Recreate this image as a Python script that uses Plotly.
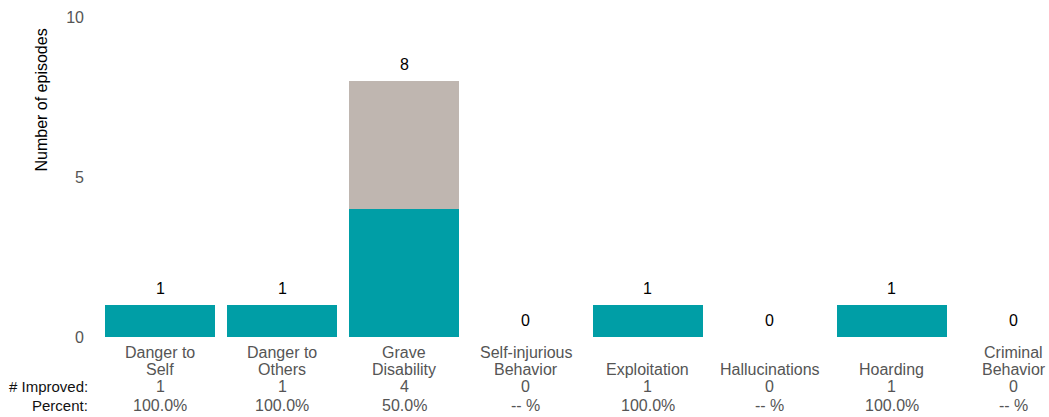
import plotly.graph_objects as go

categories = ["Danger to<br>Self", "Danger to<br>Others", "Grave<br>Disability",
              "Self-injurious<br>Behavior", "Exploitation", "Hallucinations",
              "Hoarding", "Criminal<br>Behavior"]
improved = [1, 1, 4, 0, 1, 0, 1, 0]
not_improved = [0, 0, 4, 0, 0, 0, 0, 0]
y_ticks = [0, 5, 10]

totals = [a + b for a, b in zip(improved, not_improved)]
percents = [f"{100.0 * a / t:.1f}%" if t > 0 else "-- %" for a, t in zip(improved, totals)]
xs = list(range(len(categories)))

TEAL = "#009EA6"
GREY = "#BFB6B0"
FONT = "Arial, Liberation Sans, sans-serif"
LABEL_COLOR = "#555555"

fig = go.Figure()
fig.add_trace(go.Bar(x=xs, y=improved, marker=dict(color=TEAL, line=dict(width=0)),
                     name="Improved", hoverinfo="skip"))
fig.add_trace(go.Bar(x=xs, y=not_improved, marker=dict(color=GREY, line=dict(width=0)),
                     name="Not improved", hoverinfo="skip"))

annotations = []
# value labels above bars
for x, t in zip(xs, totals):
    annotations.append(dict(x=x, y=t, xref="x", yref="y", text=str(t), showarrow=False,
                            yshift=17, yanchor="middle",
                            font=dict(family=FONT, size=16, color="#000000")))
# category labels, bottom aligned in a two-line block
line_offsets = [-15, -32]
for x, cat in zip(xs, categories):
    lines = cat.split("<br>")
    offs = line_offsets[-len(lines):]
    for ln, off in zip(lines, offs):
        annotations.append(dict(x=x, y=0, xref="x", yref="y", text=ln, showarrow=False,
                                yshift=off, yanchor="middle",
                                font=dict(family=FONT, size=16, color=LABEL_COLOR)))
    annotations.append(dict(x=x, y=0, xref="x", yref="y", text=str(improved[x]), showarrow=False,
                            yshift=-49, yanchor="middle",
                            font=dict(family=FONT, size=16, color=LABEL_COLOR)))
    annotations.append(dict(x=x, y=0, xref="x", yref="y", text=percents[x], showarrow=False,
                            yshift=-68, yanchor="middle",
                            font=dict(family=FONT, size=16, color=LABEL_COLOR)))

# row labels
for txt, off in [("# Improved:", -49), ("Percent:", -68)]:
    annotations.append(dict(x=0, y=0, xref="paper", yref="y", text=txt, showarrow=False,
                            xanchor="right", yanchor="middle", xshift=-9, yshift=off,
                            font=dict(family=FONT, size=15, color="#111111")))
# axis title
annotations.append(dict(x=0, y=0.739, xref="paper", yref="paper", text="Number of episodes",
                        showarrow=False, textangle=-90, xshift=-57, xanchor="center",
                        yanchor="middle", font=dict(family=FONT, size=16, color="#000000")))

fig.update_layout(
    barmode="stack",
    bargap=0.1,
    width=1049, height=417,
    margin=dict(l=99, r=0, t=17, b=80),
    plot_bgcolor="white", paper_bgcolor="white",
    showlegend=False,
    annotations=annotations,
    xaxis=dict(range=[-0.5, 7.287], showticklabels=False, showgrid=False, zeroline=False,
               showline=False, fixedrange=True),
    yaxis=dict(range=[0, 10], tickvals=y_ticks, showgrid=False, zeroline=False, showline=False,
               ticklabelstandoff=14, tickfont=dict(family=FONT, size=16, color=LABEL_COLOR),
               fixedrange=True),
    font=dict(family=FONT),
)

fig.write_html("out.html", config={"displayModeBar": False},
               post_script="document.body.style.margin='0';document.body.style.overflow='hidden';")
